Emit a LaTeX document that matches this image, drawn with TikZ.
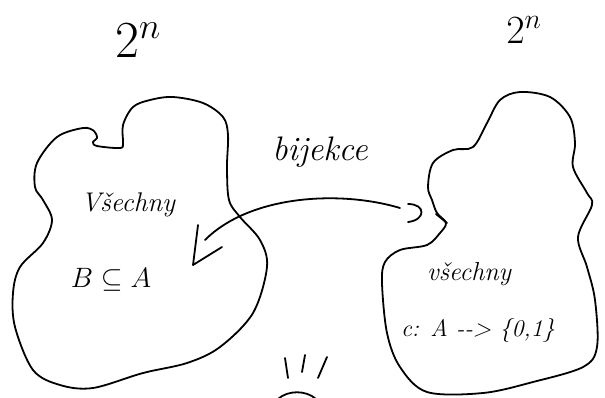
\RequirePackage{fix-cm}
\documentclass[tikz,border=0pt]{standalone}
\usetikzlibrary{calc}
\begin{document}
\begin{tikzpicture}[x=1pt,y=-1pt,
  ink/.style={line width=1.8pt,line cap=round,line join=round,black},
  hand/.style={inner sep=0pt, anchor=center}]
\useasboundingbox (0,0) rectangle (605,397);
\fill[white] (0,0) rectangle (605,397);

% left blob
\draw[ink] plot[smooth cycle, tension=0.55] coordinates {
 (123,125) (133,107) (150,100) (173,97) (203,103) (223,117) (228,135)
 (227,167) (229,200) (240,217) (260,240) (267,267) (253,313) (220,347)
 (187,363) (143,373) (93,388) (60,385) (33,370) (15,327) (13,293)
 (20,267) (43,243) (52,220) (43,200) (35,187) (37,163) (57,137)
 (83,128) (94,131) (97,138) (93,142) (97,146) (120,148) (123,143)};

% right blob
\draw[ink] plot[smooth cycle, tension=0.55] coordinates {
 (520,92) (550,97) (570,117) (575,143) (573,167) (587,193) (592,205)
 (578,237) (587,267) (595,300) (597,347) (583,367) (533,382) (483,393)
 (427,392) (400,367) (387,333) (382,283) (385,262) (400,250) (427,245)
 (440,233) (446,223) (437,213) (432,200) (428,187) (433,163) (453,150)
 (473,147) (487,123) (500,100)};

% labels
\node[hand,font=\fontsize{52}{52}\selectfont] (pl) at (138,40) {$2^{n}$};
\node[hand,font=\fontsize{40}{40}\selectfont] (pr) at (524,30) {$2^{n}$};
\node[hand,font=\fontsize{27}{28}\selectfont\itshape] (vl) at (128,205) {Všechny};
\node[hand,font=\fontsize{28}{28}\selectfont] (bl) at (111,280) {$B\subseteq A$};
\node[hand,font=\fontsize{34}{34}\selectfont\itshape] (bij) at (320,152) {bijekce};
\node[hand,font=\fontsize{26}{26}\selectfont\itshape] (vr) at (469,274) {všechny};
\node[hand,font=\fontsize{24}{24}\selectfont\itshape] (cr) at (478,330) {c: A -{}-> \{0,1\}};

% bijection arrow
\coordinate (aR) at (400,208);
\coordinate (aL) at (205,240);
\draw[ink] (aR) .. controls (340,190) and (250,195) .. (aL);
\coordinate (hTop) at (198,225);
\coordinate (hTip) at (193,265);
\coordinate (hEnd) at (222,247);
\draw[ink] (hTop) -- (hTip) -- (hEnd);
% right end marks
\coordinate (cA) at (408,204);
\coordinate (cB) at (408,222);
\draw[ink] (cA) .. controls (426,204) and (426,220) .. (cB);
\coordinate (tA) at (436,214);
\coordinate (tB) at (447,223);
\draw[ink] (tA) -- (tB);

% bottom marks
\coordinate (m1a) at (285,358); \coordinate (m1b) at (288,378);
\coordinate (m2a) at (305,355); \coordinate (m2b) at (302,372);
\coordinate (m3a) at (327,357); \coordinate (m3b) at (318,378);
\draw[ink] (m1a) -- (m1b);
\draw[ink] (m2a) -- (m2b);
\draw[ink] (m3a) -- (m3b);
\coordinate (b1) at (278,399); \coordinate (b2) at (316,399);
\draw[ink] (b1) .. controls (288,390) and (306,390) .. (b2);
\end{tikzpicture}
\end{document}
